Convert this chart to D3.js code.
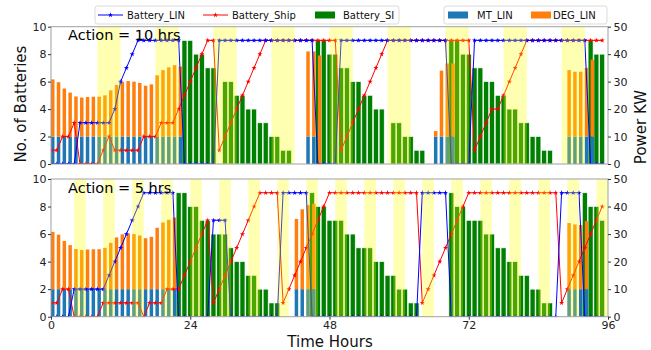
<!DOCTYPE html>
<html>
<head>
<meta charset="utf-8">
<script src="https://cdn.jsdelivr.net/npm/d3@7"></script>
<style>
  body { margin: 0; background: #fff; }
  text { font-family: "DejaVu Sans", sans-serif; }
</style>
</head>
<body>
<svg id="chart" width="651" height="350"></svg>
<script>
// ---------------- data (hourly, 0..95) ----------------
const hours = d3.range(96);
const xTicks = [0, 24, 48, 72, 96];
const batteryTicks = [0, 2, 4, 6, 8, 10];
const powerTicks = [0, 10, 20, 30, 40, 50];

// Action = 10 hrs
const topLIN = [0,0,0,0,0, 3,3,3,3,3,3, 4,6,7,8, 9,9,9,9,9,9,9,9,
  0,0,0,0,0,0, 9,9,9,9,9,9,9,9,9,9,9,9,9,9,9,9,9, 0,0,0,0,
  9,9,9,9,9,9,9,9,9,9,9,9,9,9,9,9,9,9,9, 0,0,0,0,
  9,9,9,9,9,9,9,9,9,9,9,9,9,9,9,9,9,9,9,9, 0,0,0];
const topShip = [1,1,2,2,3, 0,0,0,0, 1,2, 1,1,1,1,1, 2,2,2, 3,3,3,
  4,5,6,7,8,9,9, 1,2,3,4,5,6,7,8,9, 9,9,9,9,9,9,9,9,9,9,9,9,
  1,2,3,4,5,6,7,8,9, 9,9,9,9,9,9,9,9,9,9,9,9,9,9,
  1,2,3,4,4,5,6,7,8,9, 9,9,9,9,9,9,9,9,9,9,9,9,9];
const topSI = [0,0,0,0,0,0,0,0,0,0,0,0,0,0,0,0,0,0,0,0,0,0,0,
  9,9,8,8,7,7, 0, 6,6,5,5,4,4,3,3,2,2,1,1, 0,0,0,0,
  9,9,8,8,7,7,6,6,5,5,4,4, 0, 3,3,2,2,1,1, 0,0,0,0,
  9,9,8,8,7,7,6,6,5,5,4,4,3,3,2,2,1,1, 0,0,0,0,0,0, 9,8,8];
const topMT = [10,10,10,10,10,10,10,10,10,10,10,10,10,10,10,10,10,10,10,10,10,10,10,
  0,0,0,0,0,0,0,0,0,0,0,0,0,0,0,0,0,0,0,0,0, 10,10,
  0,0,0,0,0,0,0,0,0,0,0,0,0,0,0,0,0,0,0,0, 10,10,10,10,
  0,0,0,0,0,0,0,0,0,0,0,0,0,0,0,0,0,0,0, 10,10,10,10,10, 0,0];
const topDEG = [20.8,19.8,17.5,16,14.6,14.2,14.4,14.5,14.5,15,16.8,18.8,19.9,20.2,20,19.5,18.5,19,22.3,24.2,25.2,26,25.5,
  0,0,0,0,0,0,0,0,0,0,0,0,0,0,0,0,0,0,0,0,0, 31,31,39.5,
  0,0,0,0,0,0,0,0,0,0,0,0,0,0,0,0,0,0,0, 2,24,26.6,26.6,
  0,0,0,0,0,0,0,0,0,0,0,0,0,0,0,0,0,0,0, 24.2,23.6,23.6,25,28, 0,0];
const topBandStarts = [8, 18, 28, 38, 48, 58, 68, 78, 88];
const topBandWidth = 4;

// Action = 5 hrs
const botLIN = [0,0,0,0, 2,2,2,2,2,2, 3,4,5,6,7,8, 9,9,9,9,9,9,
  0,0,0,0,0,0, 7,7,7, 0,0,0,0,0,0,0,0,0, 9,9,9,9,9,
  0,0,0,0,0,0,0,0,0,0,0,0,0,0,0,0,0,0,0, 9,9,9,9,9,
  0,0,0,0,0,0,0,0,0,0,0,0,0,0,0,0,0,0,0, 9,9,9,9, 0,0,0,0];
const botShip = [1,1,2,2, 0,0,0,0,0, 1,1,1,1,1,1,1, 0, 1,1,1, 2,2,2,
  3,4,5,6,7, 1,2,3,4,5,6,7,8,9, 9,9,9, 1,2,3,4,5,6,7,8,9,
  9,9,9,9,9,9,9,9,9,9,9,9,9,9,9, 1,2,3,4,5,6,7,8,9,
  9,9,9,9,9,9,9,9,9,9,9,9,9,9,9, 1,2,3,4,5,6,7,8];
const botSI = [0,0,0,0,0,0,0,0,0,0,0,0,0,0,0,0,0,0,0,0,0,0,
  9,9,8,8,7,7,6,6,6,5,4,4,3,3,2,2,1,1, 0,0,0,0,0,
  9,8,8,7,7,7,6,6,5,5,5,4,4,3,3,2,2,1,1, 0,0,0,0,0,
  9,8,8,7,7,7,6,6,5,5,4,4,3,3,2,2,1,1, 0,0,0,0,0, 9,8,8,7];
const botMT = [10,10,10,10,10,10,10,10,10,10,10,10,10,10,10,10,10,10,10,10,10,10,
  0,0,0,0,0,0,0,0,0,0,0,0,0,0,0,0,0,0,0,0, 10,10,10,10,
  0,0,0,0,0,0,0,0,0,0,0,0,0,0,0,0,0,0,0,0,0,0,0,0,0,0,0,0,0,0,0,0,0,0,0,0,0,0,0,0,0,0,0,
  10,10,10,10, 0,0,0];
const botDEG = [20.8,19.8,17.5,16,14.6,14.2,14.4,14.5,14.5,15,16.8,18.8,19.9,20.2,20,19.5,18.5,19,22.3,24.2,25.2,26,
  0,0,0,0,0,0,0,0,0,0,0,0,0,0,0,0,0,0,0,0, 25.5,29,30.5,31,
  0,0,0,0,0,0,0,0,0,0,0,0,0,0,0,0,0,0,0,0,0,0,0,0,0,0,0,0,0,0,0,0,0,0,0,0,0,0,0,0,0,0,0,
  24,23.5,23.3,24.7, 0,0,0];
const botBandStarts = [4, 9, 14, 19, 24, 29, 34, 39, 44, 49, 54, 59, 64, 69, 74, 79, 84, 89, 94];
const botBandWidth = 2;

// ---------------- drawing ----------------
const svg = d3.select("#chart");
const x = d3.scaleLinear().domain([0, 96]).range([51, 608]);
const COL = { lin: "#0000ff", ship: "#ff0000", si: "#008000", mt: "#1f77b4", deg: "#ff7f0e" };

const panels = [
  { id: "p10", y0: 164, y1: 26.7, LIN: topLIN, Ship: topShip, SI: topSI, MT: topMT, DEG: topDEG,
    bands: topBandStarts, bw: topBandWidth, label: "Action = 10 hrs", xlabels: false },
  { id: "p5", y0: 316.7, y1: 179, LIN: botLIN, Ship: botShip, SI: botSI, MT: botMT, DEG: botDEG,
    bands: botBandStarts, bw: botBandWidth, label: "Action = 5 hrs", xlabels: true }
];

const star = d3.symbol().type(d3.symbolStar).size(8);

panels.forEach(p => {
  const yb = d3.scaleLinear().domain([0, 10]).range([p.y0, p.y1]);
  const yk = d3.scaleLinear().domain([0, 50]).range([p.y0, p.y1]);
  const g = svg.append("g");

  svg.append("clipPath").attr("id", "clip-" + p.id)
    .append("rect").attr("x", x(0)).attr("y", p.y1).attr("width", x(96) - x(0)).attr("height", p.y0 - p.y1);
  const plot = g.append("g").attr("clip-path", `url(#clip-${p.id})`);

  // Battery_SI bars (battery count)
  plot.append("g").selectAll("rect").data(hours.filter(h => p.SI[h] > 0)).join("rect")
    .attr("x", h => x(h - 0.43)).attr("width", x(0.86) - x(0))
    .attr("y", h => yb(p.SI[h])).attr("height", h => yb(0) - yb(p.SI[h]))
    .attr("fill", COL.si).attr("stroke", "#fff").attr("stroke-width", 0.6);

  // MT_LIN bars, DEG_LIN stacked on top (kW)
  plot.append("g").selectAll("rect").data(hours.filter(h => p.MT[h] > 0)).join("rect")
    .attr("x", h => x(h)).attr("width", x(0.6) - x(0))
    .attr("y", h => yk(p.MT[h])).attr("height", h => yk(0) - yk(p.MT[h]))
    .attr("fill", COL.mt);
  plot.append("g").selectAll("rect").data(hours.filter(h => p.DEG[h] > 0)).join("rect")
    .attr("x", h => x(h)).attr("width", x(0.6) - x(0))
    .attr("y", h => yk(p.MT[h] + p.DEG[h])).attr("height", h => yk(p.MT[h]) - yk(p.MT[h] + p.DEG[h]))
    .attr("fill", COL.deg);

  // battery lines with star markers
  [["Ship", COL.ship], ["LIN", COL.lin]].forEach(([key, col]) => {
    const vals = p[key];
    plot.append("path").datum(hours)
      .attr("d", d3.line().x(h => x(h)).y(h => yb(vals[h])))
      .attr("fill", "none").attr("stroke", col).attr("stroke-width", 1);
    plot.append("g").selectAll("path").data(hours).join("path")
      .attr("d", star).attr("transform", h => `translate(${x(h)},${yb(vals[h])})`)
      .attr("fill", col);
  });

  // action windows
  plot.append("g").selectAll("rect").data(p.bands).join("rect")
    .attr("x", s => x(s)).attr("width", x(p.bw) - x(0))
    .attr("y", p.y1).attr("height", p.y0 - p.y1)
    .attr("fill", "#ffff00").attr("opacity", 0.3);

  // frame
  g.append("rect").attr("x", x(0)).attr("y", p.y1).attr("width", x(96) - x(0)).attr("height", p.y0 - p.y1)
    .attr("fill", "none").attr("stroke", "#a0a0a0").attr("stroke-width", 1);

  // axes
  const left = g.append("g").attr("transform", `translate(${x(0)},0)`)
    .call(d3.axisLeft(yb).tickValues(batteryTicks).tickSize(3).tickPadding(1.5).tickFormat(d3.format("d")));
  const right = g.append("g").attr("transform", `translate(${x(96)},0)`)
    .call(d3.axisRight(yk).tickValues(powerTicks).tickSize(3).tickPadding(2.5).tickFormat(d3.format("d")));
  [left, right].forEach(a => {
    a.select(".domain").remove();
    a.selectAll("text").attr("font-size", 11).attr("fill", "#222").attr("font-family", "DejaVu Sans");
    a.selectAll("line").attr("stroke", "#333");
  });
  if (p.xlabels) {
    const bx = g.append("g").attr("transform", `translate(0,${p.y0})`)
      .call(d3.axisBottom(x).tickValues(xTicks).tickSize(3).tickPadding(2));
    bx.select(".domain").remove();
    bx.selectAll("text").attr("font-size", 11).attr("fill", "#222").attr("font-family", "DejaVu Sans");
    bx.selectAll("line").attr("stroke", "#333");
  }

  g.append("text").attr("x", 68).attr("y", p.y1 + 13.5)
    .attr("font-size", 14.5).attr("fill", "#000").text(p.label);
});

// axis titles
svg.append("text").attr("transform", "translate(26,104) rotate(-90)").attr("text-anchor", "middle")
  .attr("font-size", 15).attr("fill", "#111").text("No. of Batteries");
svg.append("text").attr("transform", "translate(646,127) rotate(-90)").attr("text-anchor", "middle")
  .attr("font-size", 15).attr("fill", "#111").text("Power KW");
svg.append("text").attr("x", 330).attr("y", 347).attr("text-anchor", "middle")
  .attr("font-size", 15).attr("fill", "#111").text("Time Hours");

// legends
function legend(x0, y0, w, items) {
  const lg = svg.append("g");
  lg.append("rect").attr("x", x0).attr("y", y0).attr("width", w).attr("height", 18).attr("rx", 2.5)
    .attr("fill", "#fff").attr("fill-opacity", 0.85).attr("stroke", "#d0d0d0").attr("stroke-width", 0.8);
  items.forEach(it => {
    const cy = y0 + 9;
    if (it.type === "line") {
      lg.append("line").attr("x1", it.x).attr("x2", it.x + 25).attr("y1", cy).attr("y2", cy)
        .attr("stroke", it.color).attr("stroke-width", 1);
      lg.append("path").attr("d", star).attr("transform", `translate(${it.x + 12.5},${cy})`).attr("fill", it.color);
    } else {
      lg.append("rect").attr("x", it.x).attr("y", cy - 3.5).attr("width", 20).attr("height", 7).attr("fill", it.color);
    }
    lg.append("text").attr("x", it.tx).attr("y", cy + 3.6).attr("font-size", 10).attr("fill", "#111").text(it.label);
  });
}
legend(95, 6, 304, [
  { type: "line", color: COL.lin, x: 98, tx: 127, label: "Battery_LIN" },
  { type: "line", color: COL.ship, x: 203, tx: 232, label: "Battery_Ship" },
  { type: "rect", color: COL.si, x: 315, tx: 343, label: "Battery_SI" }
]);
legend(444, 6, 163, [
  { type: "rect", color: COL.mt, x: 448, tx: 477, label: "MT_LIN" },
  { type: "rect", color: COL.deg, x: 531, tx: 553, label: "DEG_LIN" }
]);
</script>
</body>
</html>
